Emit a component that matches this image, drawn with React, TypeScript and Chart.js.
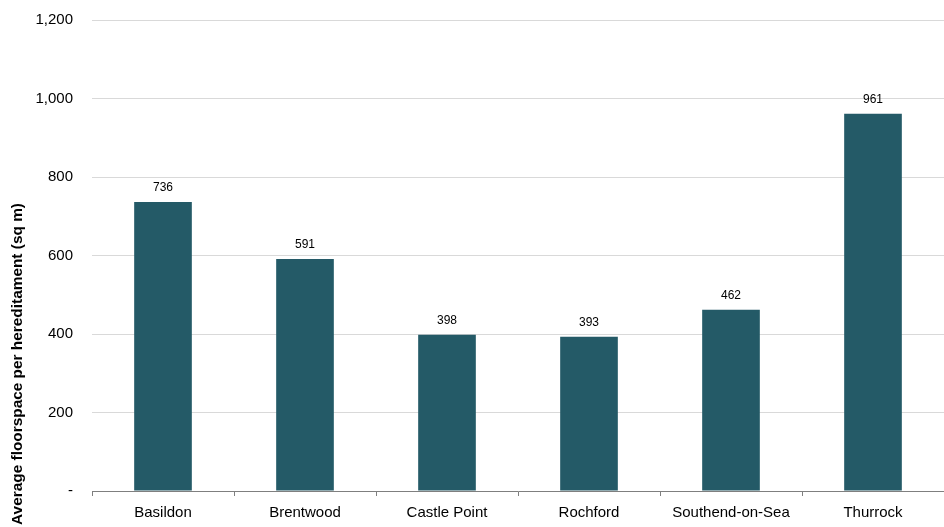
import React, { useEffect, useRef } from "react";
import { Chart, registerables } from "chart.js";

Chart.register(...registerables);

const categories = ["Basildon", "Brentwood", "Castle Point", "Rochford", "Southend-on-Sea", "Thurrock"];
const values = [736, 591, 398, 393, 462, 961];
const yTitle = "Average floorspace per hereditament (sq m)";

const BAR = "#245a67";
const FONT = "'Liberation Sans', Arial, sans-serif";

const labelPlugin = {
  id: "barLabels",
  afterDatasetsDraw(chart: any) {
    const ctx = chart.ctx;
    const meta = chart.getDatasetMeta(0);
    ctx.save();
    ctx.font = `12px ${FONT}`;
    ctx.fillStyle = "#000";
    ctx.textAlign = "center";
    ctx.textBaseline = "middle";
    meta.data.forEach((el: any, i: number) => {
      ctx.fillText(String(values[i]), el.x, el.y - 14);
    });
    ctx.restore();
  },
};

const titlePlugin = {
  id: "yTitle",
  afterDraw(chart: any) {
    const ctx = chart.ctx;
    ctx.save();
    ctx.font = `bold 15.4px ${FONT}`;
    ctx.fillStyle = "#000";
    ctx.textAlign = "center";
    ctx.textBaseline = "middle";
    ctx.translate(18, 364);
    ctx.rotate(-Math.PI / 2);
    ctx.fillText(yTitle, 0, 0);
    ctx.restore();
  },
};

export default function App() {
  const ref = useRef<HTMLCanvasElement>(null);
  useEffect(() => {
    document.body.style.margin = "0";
    const chart = new Chart(ref.current!, {
      type: "bar",
      data: {
        labels: categories,
        datasets: [
          {
            data: values,
            backgroundColor: BAR,
            barPercentage: 0.406,
            categoryPercentage: 1,
          },
        ],
      },
      options: {
        animation: false,
        responsive: false,
        maintainAspectRatio: false,
        layout: { padding: { top: 20, right: 0, bottom: 0, left: 0 } },
        plugins: { legend: { display: false }, tooltip: { enabled: false } },
        scales: {
          x: {
            afterFit(s: any) {
              s.height = 36;
              s.paddingLeft = 0;
              s.paddingRight = 0;
            },
            border: { display: true, color: "#7f7f7f", width: 1 },
            grid: {
              offset: true,
              drawOnChartArea: false,
              drawTicks: true,
              tickLength: 5,
              color: "#7f7f7f",
            },
            ticks: { color: "#000", font: { family: FONT, size: 15 }, padding: 8 },
          },
          y: {
            min: 0,
            max: 1200,
            afterFit(s: any) {
              s.width = 92;
              s.paddingTop = 0;
              s.paddingBottom = 0;
            },
            border: { display: false },
            grid: { color: "#d9d9d9", drawTicks: false },
            ticks: {
              stepSize: 200,
              color: "#000",
              padding: 19,
              font: { family: FONT, size: 15 },
              callback: (v: any) => (v === 0 ? "-" : Number(v).toLocaleString("en-US")),
            },
          },
        },
      },
      plugins: [labelPlugin, titlePlugin],
    });
    return () => chart.destroy();
  }, []);
  return (
    <div style={{ width: 944, height: 527 }}>
      <canvas ref={ref} width={944} height={527} style={{ width: 944, height: 527, display: "block" }} />
    </div>
  );
}
